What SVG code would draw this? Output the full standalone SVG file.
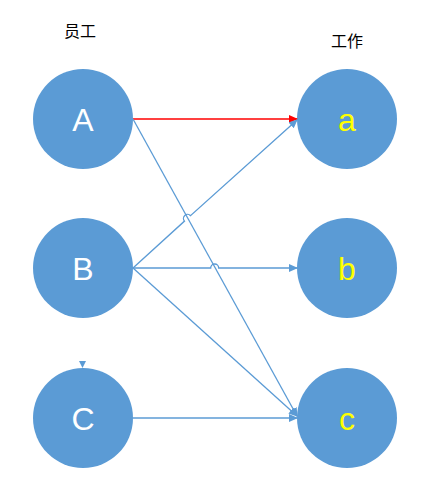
<svg xmlns="http://www.w3.org/2000/svg" width="443" height="494" viewBox="0 0 443 494">
<style>
.node{fill:#5B9BD5;}
.up{font-family:"Liberation Sans",Arial,sans-serif;font-size:32px;fill:#FFFFFF;text-anchor:middle;}
.lo{font-family:"Liberation Sans",Arial,sans-serif;font-size:32px;fill:#FFFF00;text-anchor:middle;}
.title{font-family:"Noto Sans CJK SC","Noto Sans",sans-serif;font-size:16px;fill:#000000;text-anchor:middle;}
.ln{fill:none;stroke:#5B9BD5;stroke-width:1.3;marker-end:url(#ab);}
.red{fill:none;stroke:#FF0000;stroke-width:1.3;marker-end:url(#ar);}
</style>
<defs>
<marker id="ab" markerUnits="userSpaceOnUse" markerWidth="10" markerHeight="10" refX="8" refY="4" orient="auto"><path d="M0,0 L9,4 L0,8 z" fill="#5B9BD5"/></marker>
<marker id="ar" markerUnits="userSpaceOnUse" markerWidth="10" markerHeight="10" refX="8" refY="4" orient="auto"><path d="M0,0 L9,4 L0,8 z" fill="#FF0000"/></marker>
</defs>
<rect width="443" height="494" fill="#FFFFFF"/>
<text class="title" x="80" y="37">员工</text>
<text class="title" x="347" y="47">工作</text>
<g id="A"><circle class="node" cx="83" cy="119" r="50"/><text class="up" x="83" y="131">A</text></g>
<g id="B"><circle class="node" cx="83" cy="268" r="50"/><text class="up" x="83" y="280">B</text></g>
<g id="C"><circle class="node" cx="83" cy="418" r="50"/><text class="up" x="83" y="430">C</text><path d="M79,361 L86,361 L82.5,368 z" fill="#5B9BD5"/></g>
<g id="a"><circle class="node" cx="347" cy="119" r="50"/><text class="lo" x="347" y="131">a</text></g>
<g id="b"><circle class="node" cx="347" cy="268" r="50"/><text class="lo" x="347" y="280">b</text></g>
<g id="c"><circle class="node" cx="347" cy="418" r="50"/><text class="lo" x="347" y="430">c</text></g>
<g id="connectors">
<path class="red" d="M133,119 L297,119"/>
<path class="ln" d="M133,119 L297,416"/>
<path class="ln" d="M133,268 L184.5,221.1 A4,4 0 0 1 190.5,215.7 L297,120"/>
<path class="ln" d="M133,268 L210.7,268 A4,4 0 0 1 218.7,268 L297,268"/>
<path class="ln" d="M133,268 L297,416"/>
<path class="ln" d="M133,418 L297,418"/>
</g>
</svg>
